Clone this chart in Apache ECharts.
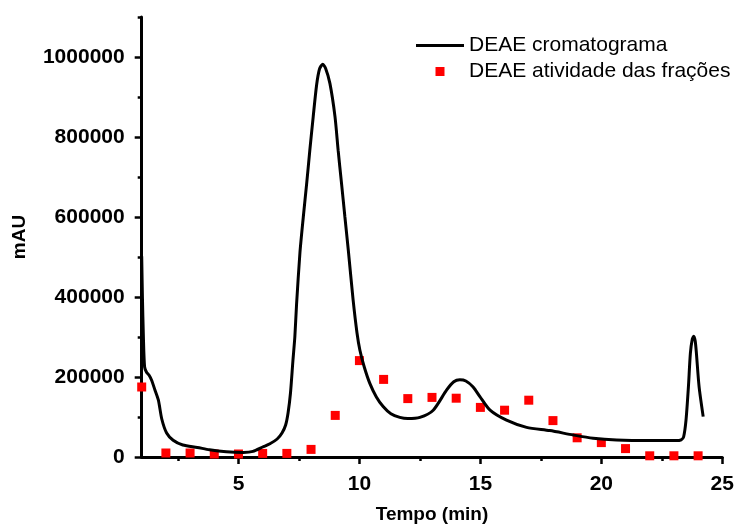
<!DOCTYPE html>
<html>
<head>
<meta charset="utf-8">
<script src="https://cdn.jsdelivr.net/npm/echarts@6/dist/echarts.min.js"></script>
<style>html,body{margin:0;padding:0;background:#fff;}#c{width:737px;height:530px;}</style>
</head>
<body>
<div id="c"></div>
<script>
// Chromatogram (time in min, mAU)
const lineTime = [1.0, 1.03, 1.07, 1.12, 1.2, 1.3, 1.41, 1.55, 1.69, 1.83, 2.03, 2.3, 2.7, 3.3, 3.8, 4.5, 5.2, 5.6, 6.0, 6.3, 6.6, 6.8, 6.95, 7.05, 7.15, 7.25, 7.33, 7.4, 7.54, 7.68, 7.82, 7.95, 8.09, 8.23, 8.35, 8.48, 8.6, 8.78, 8.99, 9.12, 9.26, 9.4, 9.54, 9.74, 9.9, 10.02, 10.2, 10.43, 10.7, 10.98, 11.3, 11.67, 12.0, 12.5, 13.05, 13.6, 13.9, 14.15, 14.4, 14.7, 14.98, 15.4, 16.08, 16.91, 17.87, 18.84, 19.66, 20.63, 22.0, 23.1, 23.3, 23.4, 23.5, 23.6, 23.68, 23.76, 23.82, 23.88, 23.93, 24.04, 24.21];
const lineValue = [502000, 400000, 300000, 225000, 212000, 205000, 192000, 167000, 142000, 95000, 60000, 42000, 30000, 24000, 18000, 13000, 11500, 14000, 25000, 33000, 45000, 60000, 80000, 110000, 160000, 240000, 300000, 380000, 510000, 600000, 684000, 767000, 851000, 930000, 970000, 982000, 972000, 934000, 851000, 767000, 684000, 600000, 517000, 392000, 310000, 267000, 225000, 184000, 150000, 126000, 108000, 99000, 96000, 99000, 117000, 167000, 188000, 193000, 190000, 175000, 151000, 117000, 92000, 74000, 66000, 55000, 47000, 42500, 41000, 41000, 43000, 50000, 92000, 176000, 259000, 295000, 302000, 290000, 259000, 176000, 101000];
// Fraction activity
const fracTime = [1, 2, 3, 4, 5, 6, 7, 8, 9, 10, 11, 12, 13, 14, 15, 16, 17, 18, 19, 20, 21, 22, 23, 24];
const fracValue = [175000, 10000, 10000, 7500, 7500, 9000, 9000, 19000, 104000, 241000, 194000, 146000, 149000, 147000, 124000, 117000, 142000, 91000, 48000, 36000, 21000, 3000, 3000, 3000];
// Axis ticks
const xMajor = [5, 10, 15, 20, 25];
const xMinor = [2.5, 7.5, 12.5, 17.5, 22.5];
const yMajor = [0, 200000, 400000, 600000, 800000, 1000000];
const yMinor = [100000, 300000, 500000, 700000, 900000, 1100000];
const names = ['DEAE cromatograma', 'DEAE atividade das frações'];

const FONT = 'Liberation Sans, Arial, sans-serif';
const lineData = lineTime.map((t, i) => [t, lineValue[i]]);
const fracData = fracTime.map((t, i) => [t, fracValue[i]]);

const chart = echarts.init(document.getElementById('c'), null, {renderer: 'canvas'});
const axisCommon = {
  type: 'value',
  splitLine: {show: false}
};
chart.setOption({
  animation: false,
  backgroundColor: '#fff',
  grid: {left: 141.7, right: 14.7, top: 17, bottom: 73, containLabel: false},
  legend: {
    orient: 'vertical',
    left: 411,
    top: 30,
    itemWidth: 48,
    itemHeight: 9,
    itemGap: 5,
    textStyle: {fontFamily: FONT, fontSize: 21, color: '#000'},
    data: [
      {name: names[0], icon: 'path://M0,0L48,0L48,3L0,3Z', itemStyle: {color: '#000'}},
      {name: names[1], icon: 'path://M0,0L10,0L10,10L0,10Z', itemStyle: {color: '#ff0000'}}
    ]
  },
  xAxis: [
    Object.assign({}, axisCommon, {
      min: 1, max: 25,
      name: 'Tempo (min)', nameLocation: 'middle', nameGap: 48,
      nameTextStyle: {fontFamily: FONT, fontSize: 19, fontWeight: 'bold', color: '#000'},
      axisLine: {onZero: false, lineStyle: {color: '#000', width: 3}},
      axisTick: {show: true, inside: false, length: 7, lineStyle: {width: 2.5, color: '#000'}, customValues: xMajor},
      axisLabel: {margin: 17, fontFamily: FONT, fontSize: 21, fontWeight: 'bold', color: '#000', customValues: xMajor}
    }),
    Object.assign({}, axisCommon, {
      min: 1, max: 25, position: 'bottom',
      axisLine: {show: false, onZero: false},
      axisTick: {show: true, inside: false, length: 4, lineStyle: {width: 2.5, color: '#000'}, customValues: xMinor},
      axisLabel: {show: false}
    })
  ],
  yAxis: [
    Object.assign({}, axisCommon, {
      min: 0, max: 1100000,
      name: 'mAU', nameLocation: 'middle', nameGap: 112,
      nameTextStyle: {fontFamily: FONT, fontSize: 19, fontWeight: 'bold', color: '#000'},
      axisLine: {onZero: false, lineStyle: {color: '#000', width: 3}},
      axisTick: {show: true, inside: false, length: 7, lineStyle: {width: 2.5, color: '#000'}, customValues: yMajor},
      axisLabel: {margin: 17, fontFamily: FONT, fontSize: 21, fontWeight: 'bold', color: '#000', customValues: yMajor, formatter: v => String(v)}
    }),
    Object.assign({}, axisCommon, {
      min: 0, max: 1100000, position: 'left',
      axisLine: {show: false, onZero: false},
      axisTick: {show: true, inside: false, length: 4, lineStyle: {width: 2.5, color: '#000'}, customValues: yMinor},
      axisLabel: {show: false}
    })
  ],
  series: [
    {
      name: names[0], type: 'line', xAxisIndex: 0, yAxisIndex: 0,
      data: lineData, smooth: 0.25, showSymbol: false, symbol: 'none',
      lineStyle: {color: '#000', width: 3},
      itemStyle: {color: '#000'},
      z: 3
    },
    {
      name: names[1], type: 'scatter', xAxisIndex: 0, yAxisIndex: 0,
      data: fracData, symbol: 'rect', symbolSize: 9,
      itemStyle: {color: '#ff0000', opacity: 1},
      z: 2
    }
  ]
});
</script>
</body>
</html>
